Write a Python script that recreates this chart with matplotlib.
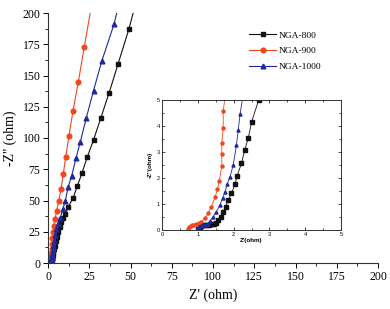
import numpy as np
import matplotlib
matplotlib.use('Agg')
import matplotlib.pyplot as plt
from matplotlib.ticker import MultipleLocator

# NGA-800 (Z', -Z'')
x800 = [1.00, 1.05, 1.10, 1.15, 1.20, 1.25, 1.30, 1.35, 1.40, 1.45, 1.50, 1.57,
        1.64, 1.71, 1.78, 1.85, 1.94, 2.04, 2.10, 2.22, 2.31, 2.41, 2.50, 2.70,
        3.0, 3.3, 3.7, 4.2, 4.8, 5.5, 6.3, 7.2, 8.1, 9.0, 10.6, 12.3, 15.2,
        17.8, 20.6, 23.8, 27.6, 32.0, 37.0, 42.4, 49.0, 55.0]
y800 = [0.04, 0.12, 0.17, 0.19, 0.20, 0.20, 0.21, 0.22, 0.23, 0.25, 0.28, 0.38,
        0.51, 0.71, 0.90, 1.15, 1.41, 1.76, 2.09, 2.56, 3.08, 3.53, 4.14, 5.0,
        6.5, 8.5, 11.0, 14.0, 17.5, 21.0, 25.0, 29.0, 33.0, 36.0, 39.0, 45.0, 52.0,
        61.6, 72.0, 84.8, 98.4, 116.0, 136.0, 159.0, 187.0, 217.0]

# NGA-900
x900 = [0.72, 0.76, 0.80, 0.85, 0.90, 0.96, 1.03, 1.10, 1.20, 1.29, 1.38, 1.48,
        1.55, 1.60, 1.67, 1.67, 1.67, 1.71, 1.71, 1.80, 1.95, 2.15, 2.40, 2.70,
        3.0, 3.4, 4.3, 5.3, 6.5, 7.9, 9.2, 10.8, 12.7, 15.2, 18.4, 22.0, 26.5]
y900 = [0.04, 0.10, 0.15, 0.18, 0.20, 0.23, 0.27, 0.32, 0.45, 0.64, 0.90, 1.26,
        1.56, 1.88, 2.46, 2.92, 3.36, 3.91, 4.58, 5.5, 8.0, 11.5, 15.5, 20.0,
        24.5, 29.5, 35.5, 42.0, 50.0, 59.0, 71.0, 85.0, 102.0, 122.0, 145.0, 173.0, 207.0]

# NGA-1000
x1000 = [0.98, 1.03, 1.08, 1.13, 1.18, 1.23, 1.28, 1.34, 1.43, 1.52, 1.62, 1.69,
         1.76, 1.82, 1.90, 1.99, 2.08, 2.13, 2.18, 2.30, 2.50, 2.80, 3.2, 3.7,
         4.3, 5.0, 5.8, 7.4, 9.0, 10.5, 12.3, 14.4, 17.0, 19.6, 23.2, 27.6,
         32.7, 40.0, 43.5]
y1000 = [0.04, 0.12, 0.17, 0.19, 0.20, 0.21, 0.25, 0.35, 0.51, 0.71, 0.96, 1.22,
         1.47, 1.76, 2.05, 2.50, 3.27, 3.85, 4.45, 5.5, 7.5, 10.5, 14.0, 18.0,
         22.5, 27.0, 31.5, 36.0, 43.0, 50.0, 61.0, 70.0, 84.0, 97.0, 116.0, 138.0,
         162.0, 191.0, 210.0]

series = [
    ('NGA-800', x800, y800, '#111111', 's'),
    ('NGA-900', x900, y900, '#f2461e', 'o'),
    ('NGA-1000', x1000, y1000, '#1e2a9c', '^'),
]

plt.rcParams['font.family'] = 'Liberation Serif'

fig = plt.figure(figsize=(3.9, 3.09), dpi=100)
ax = fig.add_axes([48/390, 46/309, 330/390, 250/309])

for name, x, y, c, m in series:
    ax.plot(x, y, color=c, marker=m, markersize=3.4, linewidth=0.8, label=name)

ax.set_xlim(0, 200)
ax.set_ylim(0, 200)
ax.xaxis.set_major_locator(MultipleLocator(25))
ax.xaxis.set_minor_locator(MultipleLocator(12.5))
ax.yaxis.set_major_locator(MultipleLocator(25))
ax.yaxis.set_minor_locator(MultipleLocator(12.5))
ax.spines['top'].set_visible(False)
ax.spines['right'].set_visible(False)
for s in ['left', 'bottom']:
    ax.spines[s].set_linewidth(0.8)
    ax.spines[s].set_color('#333333')
ax.tick_params(which='major', direction='out', length=3.5, width=0.7, labelsize=8.5, pad=2)
ax.tick_params(which='minor', direction='out', length=2, width=0.6)
ax.set_xlabel("Z' (ohm)", fontsize=10, labelpad=4)
ax.set_ylabel("-Z'' (ohm)", fontsize=10, labelpad=4)

ax.legend(loc='upper left', bbox_to_anchor=(249/390, 1 - 31/309),
          bbox_transform=fig.transFigure, frameon=False, fontsize=6.8,
          handlelength=2.9, handletextpad=0.2, labelspacing=0.75,
          borderpad=0, borderaxespad=0)

# inset
ins = fig.add_axes([162/390, 79/309, 179/390, 130/309])
for name, x, y, c, m in series:
    ins.plot(x, y, color=c, marker=m, markersize=2.2, linewidth=0.6)
ins.set_xlim(0, 5)
ins.set_ylim(0, 5)
ins.xaxis.set_major_locator(MultipleLocator(1))
ins.xaxis.set_minor_locator(MultipleLocator(0.5))
ins.yaxis.set_major_locator(MultipleLocator(1))
ins.yaxis.set_minor_locator(MultipleLocator(0.5))
for s in ins.spines.values():
    s.set_linewidth(0.7)
    s.set_color('#333333')
ins.tick_params(which='both', direction='in', top=True, right=True,
                labelsize=4, pad=1.5, width=0.5)
ins.tick_params(which='major', length=2)
ins.tick_params(which='minor', length=1.2)
for lab in ins.get_xticklabels() + ins.get_yticklabels():
    lab.set_family('Liberation Sans')
ins.set_xlabel("Z'(ohm)", fontsize=4.5, family='Liberation Sans',
               fontweight='bold', labelpad=1)
ins.set_ylabel("-Z''(ohm)", fontsize=4.5, family='Liberation Sans',
               fontweight='bold', labelpad=3)

fig.savefig('out.png', dpi=100)
